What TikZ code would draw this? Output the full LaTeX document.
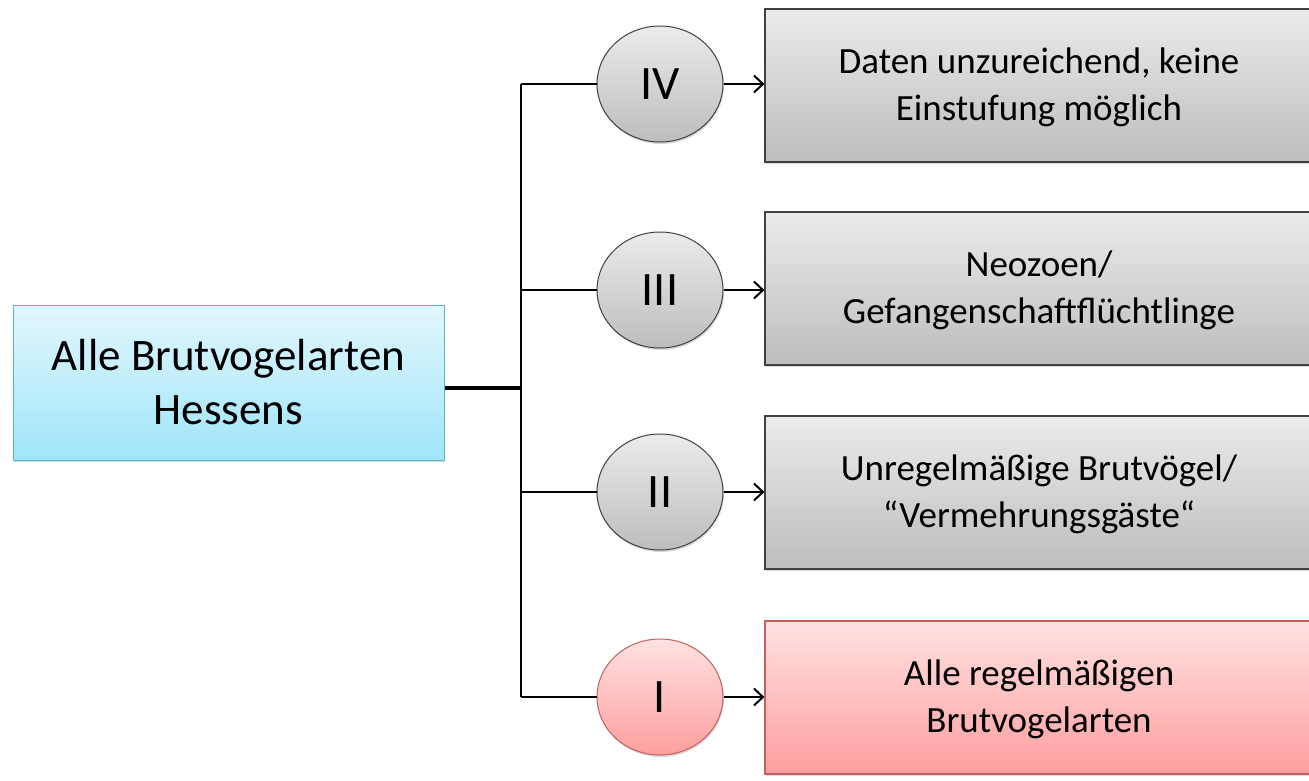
\documentclass[tikz,border=0pt]{standalone}
\usepackage{fontspec}
\setmainfont{Carlito}
\usetikzlibrary{arrows.meta,shadows,shapes.geometric}
\definecolor{cyanTop}{HTML}{E2F7FD}
\definecolor{cyanBot}{HTML}{9FE5F9}
\definecolor{cyanDraw}{HTML}{5AB4CC}
\definecolor{grayTop}{HTML}{EBEBEB}
\definecolor{grayBot}{HTML}{BDBDBD}
\definecolor{grayDraw}{HTML}{404040}
\definecolor{redTop}{HTML}{FFE2E2}
\definecolor{redBot}{HTML}{FF9E9E}
\definecolor{redDraw}{HTML}{C06060}
\tikzset{
  x=1pt, y=-1pt,
  mainbox/.style={draw=cyanDraw, line width=1pt, top color=cyanTop, bottom color=cyanBot,
    minimum width=431pt, minimum height=155pt, inner sep=0pt, align=center,
    font=\fontsize{45}{54}\selectfont, drop shadow={shadow xshift=1pt, shadow yshift=-2pt, opacity=0.3}},
  catbox/.style={draw=grayDraw, line width=1.2pt, top color=grayTop, bottom color=grayBot,
    minimum width=560pt, minimum height=153pt, inner sep=0pt, align=center,
    font=\fontsize{37}{47}\selectfont, drop shadow={shadow xshift=1pt, shadow yshift=-2pt, opacity=0.3}},
  redbox/.style={catbox, draw=redDraw, top color=redTop, bottom color=redBot},
  catcirc/.style={ellipse, draw=grayDraw, line width=1pt, top color=grayTop, bottom color=grayBot,
    minimum width=126pt, minimum height=116pt, inner sep=0pt,
    font=\fontsize{48}{50}\selectfont, drop shadow={shadow xshift=1pt, shadow yshift=-2pt, opacity=0.3}},
  redcirc/.style={catcirc, draw=redDraw, top color=redTop, bottom color=redBot},
  conn/.style={line width=2pt, black},
  arr/.style={line width=2pt, black, -{Straight Barb[length=9pt, width=17pt, line width=2pt]}},
  btext/.style={align=center, font=\fontsize{37}{47}\selectfont, inner sep=0pt},
}
\begin{document}
\begin{tikzpicture}
\useasboundingbox (0,0) rectangle (1309,780);
\node[mainbox] (main) at (228.5,382.5) {Alle Brutvogelarten\\Hessens};
\coordinate (j) at (521,388);
\coordinate (t4) at (521,84);
\coordinate (t3) at (521,290);
\coordinate (t2) at (521,492);
\coordinate (t1) at (521,697);

\node[catcirc] (c4) at (660,84) {IV};
\node[catcirc] (c3) at (660,290) {III};
\node[catcirc] (c2) at (660,492) {II};
\node[redcirc] (c1) at (660,697) {I};

\node[catbox] (b4) at (1045,85.5) {};
\node[catbox] (b3) at (1045,288.5) {};
\node[catbox] (b2) at (1045,492.5) {};
\node[redbox] (b1) at (1045,697.5) {};
\node[btext] (l4) at (1039,87) {Daten unzureichend, keine\\Einstufung möglich};
\node[btext] (l3) at (1039,290) {Neozoen/\\Gefangenschaftflüchtlinge};
\node[btext] (l2) at (1039,494) {Unregelmäßige Brutvögel/\\“Vermehrungsgäste“};
\node[btext] (l1) at (1039,699) {Alle regelmäßigen\\Brutvogelarten};

\draw[line width=4pt] (main.east |- j) -- (j);
\draw[conn] (t4) -- (t1);
\draw[conn] (t4) -- (c4.west);
\draw[conn] (t3) -- (c3.west);
\draw[conn] (t2) -- (c2.west);
\draw[conn] (t1) -- (c1.west);
\draw[arr] (c4.east) -- (b4.west |- c4.east);
\draw[arr] (c3.east) -- (b3.west |- c3.east);
\draw[arr] (c2.east) -- (b2.west |- c2.east);
\draw[arr] (c1.east) -- (b1.west |- c1.east);
\end{tikzpicture}
\end{document}
